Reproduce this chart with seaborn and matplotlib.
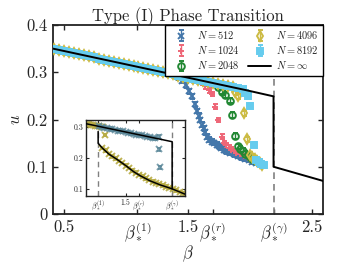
import numpy as np
import matplotlib
matplotlib.use('Agg')
import matplotlib.pyplot as plt
import seaborn as sns

# ---- data ----
# shared upper branch, all N sit on it before they drop
beta_upper = [0.42, 0.46, 0.50, 0.54, 0.58, 0.62, 0.66, 0.70, 0.74, 0.78,
              0.82, 0.86, 0.90, 0.94, 0.98, 1.02, 1.06, 1.10, 1.14, 1.18,
              1.22, 1.26, 1.30, 1.34, 1.38, 1.42, 1.46, 1.50, 1.54, 1.58,
              1.62, 1.66, 1.70, 1.74, 1.78, 1.82, 1.86, 1.90, 1.94]
u_upper = [0.3494, 0.3472, 0.3449, 0.3427, 0.3404, 0.3381, 0.3359, 0.3336, 0.3314, 0.3291,
           0.3269, 0.3246, 0.3224, 0.3201, 0.3179, 0.3156, 0.3133, 0.3111, 0.3088, 0.3066,
           0.3043, 0.3021, 0.2998, 0.2975, 0.2953, 0.2930, 0.2908, 0.2885, 0.2863, 0.2840,
           0.2818, 0.2795, 0.2772, 0.2750, 0.2727, 0.2705, 0.2682, 0.2660, 0.2637]

sizes = [512, 1024, 2048, 4096, 8192]
last_upper = [1.38, 1.58, 1.70, 1.86, 1.94]
errs = [0.005, 0.005, 0.006, 0.006, 0.005]

tail_beta_512 = [1.42, 1.45, 1.48, 1.51, 1.53, 1.555, 1.57, 1.585, 1.60, 1.613,
                 1.626, 1.64, 1.655, 1.67, 1.69, 1.71, 1.73, 1.75, 1.77, 1.79,
                 1.81, 1.84, 1.87, 1.90, 1.93, 1.96, 1.99, 2.02, 2.05, 2.08]
tail_u_512 = [0.289, 0.282, 0.272, 0.260, 0.249, 0.232, 0.218, 0.208, 0.199, 0.189,
              0.181, 0.173, 0.164, 0.157, 0.153, 0.150, 0.147, 0.143, 0.140, 0.136,
              0.133, 0.129, 0.126, 0.123, 0.120, 0.117, 0.114, 0.111, 0.108, 0.106]
tail_beta_1024 = [1.61, 1.64, 1.67, 1.695, 1.72, 1.745, 1.775, 1.79, 1.81, 1.83,
                  1.85, 1.87, 1.89, 1.92, 1.95, 1.98, 2.01, 2.04, 2.07]
tail_u_1024 = [0.278, 0.270, 0.262, 0.254, 0.227, 0.199, 0.164, 0.150, 0.145, 0.140,
               0.136, 0.133, 0.130, 0.126, 0.122, 0.118, 0.114, 0.111, 0.108]
tail_beta_2048 = [1.74, 1.775, 1.80, 1.84, 1.857, 1.88, 1.90, 1.92, 1.94, 1.96,
                  1.98, 2.00, 2.02, 2.05, 2.08]
tail_u_2048 = [0.268, 0.259, 0.252, 0.240, 0.209, 0.165, 0.143, 0.138, 0.133, 0.128,
               0.124, 0.120, 0.116, 0.112, 0.108]
tail_beta_4096 = [1.88, 1.90, 1.95, 1.975, 2.00, 2.02, 2.04, 2.06, 2.08, 2.10]
tail_u_4096 = [0.258, 0.249, 0.213, 0.158, 0.125, 0.120, 0.116, 0.112, 0.108, 0.104]
tail_beta_8192 = [1.96, 1.98, 2.00, 2.03, 2.05, 2.07, 2.09, 2.11]
tail_u_8192 = [0.256, 0.249, 0.229, 0.147, 0.115, 0.110, 0.106, 0.103]

tails = {512: (tail_beta_512, tail_u_512), 1024: (tail_beta_1024, tail_u_1024),
         2048: (tail_beta_2048, tail_u_2048), 4096: (tail_beta_4096, tail_u_4096),
         8192: (tail_beta_8192, tail_u_8192)}

# N = infinity curve
inf_beta = [0.41, 1.97, 2.19, 2.19, 2.59]
inf_u = [0.350, 0.262, 0.249, 0.100, 0.070]

beta_1, beta_r, beta_g = 1.09, 1.70, 2.19

# inset
ins_up_beta = [0.91, 2.19, 2.19]
ins_up_u = [0.310, 0.252, 0.100]
ins_low_beta = [1.09, 1.09, 1.15, 1.25, 1.37, 1.50, 1.62, 1.71, 1.86, 2.01, 2.19, 2.38]
ins_low_u = [0.285, 0.247, 0.232, 0.212, 0.195, 0.175, 0.155, 0.143, 0.126, 0.113, 0.100, 0.083]

insA_beta = [0.92, 0.95, 0.98, 1.01, 1.04, 1.07, 1.10, 1.13, 1.16, 1.19,
             1.15, 1.20, 1.25, 1.30, 1.35, 1.40, 1.45, 1.50, 1.55, 1.60,
             1.65, 1.70, 1.75, 1.80, 1.85, 1.90, 1.95, 2.00, 2.05, 2.10,
             2.15, 2.20, 2.25, 2.30, 2.35, 2.38]
insA_u = [0.309, 0.308, 0.307, 0.305, 0.304, 0.302, 0.301, 0.300, 0.298, 0.273,
          0.232, 0.224, 0.212, 0.205, 0.198, 0.190, 0.183, 0.175, 0.167, 0.159,
          0.152, 0.145, 0.140, 0.134, 0.128, 0.123, 0.119, 0.115, 0.111, 0.107,
          0.103, 0.099, 0.095, 0.090, 0.086, 0.083]
insB_beta = [1.10, 1.14, 1.18, 1.22, 1.26, 1.30, 1.34, 1.38, 1.42, 1.46,
             1.50, 1.54, 1.58, 1.62, 1.66, 1.70, 1.74, 1.78, 1.82, 1.86,
             1.90, 1.94, 1.99, 1.99, 2.01]
insB_u = [0.301, 0.299, 0.297, 0.296, 0.294, 0.292, 0.290, 0.288, 0.286, 0.285,
          0.283, 0.281, 0.279, 0.277, 0.275, 0.274, 0.272, 0.270, 0.268, 0.266,
          0.264, 0.263, 0.268, 0.227, 0.169]

colors = ['#4477AA', '#EE6677', '#228833', '#CCBB44', '#66CCEE']
markers = ['x', '+', 'o', 'd', 's']
msizes = [3.8, 4.0, 4.8, 5.2, 4.3]

# ---- style ----
sns.set_style('ticks')
plt.rcParams['font.family'] = ['serif']
plt.rcParams['font.serif'] = ['cmr10', 'DejaVu Serif']
plt.rcParams['mathtext.fontset'] = 'cm'
plt.rcParams['axes.formatter.use_mathtext'] = True
plt.rcParams['axes.unicode_minus'] = False

fig = plt.figure(figsize=(3.57, 2.68), dpi=100)
ax = fig.add_axes([0.1485, 0.2015, 0.7565, 0.7052])

handles = []
for N, lb, err, c, m, ms in zip(sizes, last_upper, errs, colors, markers, msizes):
    n_up = len([x for x in beta_upper if x <= lb])
    b = beta_upper[:n_up] + tails[N][0]
    u = u_upper[:n_up] + tails[N][1]
    filled = m in ('x', '+', 's')
    h = ax.errorbar(b, u, yerr=err, fmt=m, color=c, ms=ms,
                    mfc=c if filled else 'none', mew=1.4, elinewidth=1.0,
                    capsize=1.8, capthick=1.0, zorder=3)
    handles.append(h)

ax.axvline(beta_g, color='grey', ls='--', lw=1.2, dashes=(4, 3), zorder=1)
sns.lineplot(x=inf_beta, y=inf_u, sort=False, estimator=None, color='black',
             lw=1.4, ax=ax, zorder=5)
inf_handle = ax.lines[-1]

ax.set_xlim(0.41, 2.59)
ax.set_ylim(0, 0.4)
ax.set_xticks([0.5, beta_1, 1.5, beta_r, beta_g, 2.5])
ax.set_xticklabels(['0.5', r'$\beta_*^{(1)}$', '1.5', r'$\beta_*^{(r)}$',
                    r'$\beta_*^{(\gamma)}$', '2.5'])
ax.set_yticks([0, 0.1, 0.2, 0.3, 0.4])
ax.set_yticklabels(['0', '0.1', '0.2', '0.3', '0.4'])
ax.tick_params(direction='in', top=True, right=True, length=3.5, width=1,
               labelsize=12, pad=4)
for s in ax.spines.values():
    s.set_linewidth(1.3)
    s.set_color('#222222')
ax.set_xlabel(r'$\beta$', fontsize=12, labelpad=0)
ax.set_ylabel(r'$u$', fontsize=12, labelpad=2)
ax.set_title('Type (I) Phase Transition', fontsize=12, pad=3)

leg = ax.legend(handles + [inf_handle],
                [r'$N = %d$' % n for n in sizes] + [r'$N = \infty$'],
                ncol=2, loc='upper right', fontsize=7.5, frameon=True,
                fancybox=False, edgecolor='black', framealpha=1,
                borderaxespad=0, handlelength=2.2, labelspacing=0.3,
                columnspacing=0.8, handletextpad=0.5, borderpad=0.4)
leg.get_frame().set_linewidth(1.0)

# ---- inset ----
axi = fig.add_axes([0.241, 0.2687, 0.277, 0.2836])
axi.errorbar(insA_beta, insA_u, yerr=0.004, fmt='x', color='#B8AC45', ms=4.2,
             mew=1.4, elinewidth=0.8, capsize=1.2, alpha=0.9, zorder=2)
axi.errorbar(insB_beta, insB_u, yerr=0.004, fmt='x', color='#5A8799', ms=4.2,
             mew=1.4, elinewidth=0.8, capsize=1.2, alpha=0.8, zorder=3)
axi.axvline(beta_1, color='grey', ls='--', lw=1.0, dashes=(4, 3), zorder=1)
axi.axvline(beta_g, color='grey', ls='--', lw=1.0, dashes=(4, 3), zorder=1)
sns.lineplot(x=ins_up_beta, y=ins_up_u, sort=False, estimator=None,
             color='black', lw=1.1, ax=axi, zorder=5)
sns.lineplot(x=ins_low_beta, y=ins_low_u, sort=False, estimator=None,
             color='black', lw=1.1, ax=axi, zorder=5)
axi.set_xlim(0.91, 2.38)
axi.set_ylim(0.077, 0.322)
axi.set_xticks([beta_1, 1.5, beta_r, beta_g])
axi.set_xticklabels([r'$\beta_*^{(1)}$', '1.5', r'$\beta_*^{(r)}$',
                     r'$\beta_*^{(\gamma)}$'])
axi.set_yticks([0.1, 0.2, 0.3])
axi.set_yticklabels(['0.1', '0.2', '0.3'])
axi.tick_params(direction='in', top=True, right=True, length=2, width=0.8,
                labelsize=5.5, pad=2)
for s in axi.spines.values():
    s.set_linewidth(1.0)
    s.set_color('#222222')

fig.savefig('out.png', dpi=100)
